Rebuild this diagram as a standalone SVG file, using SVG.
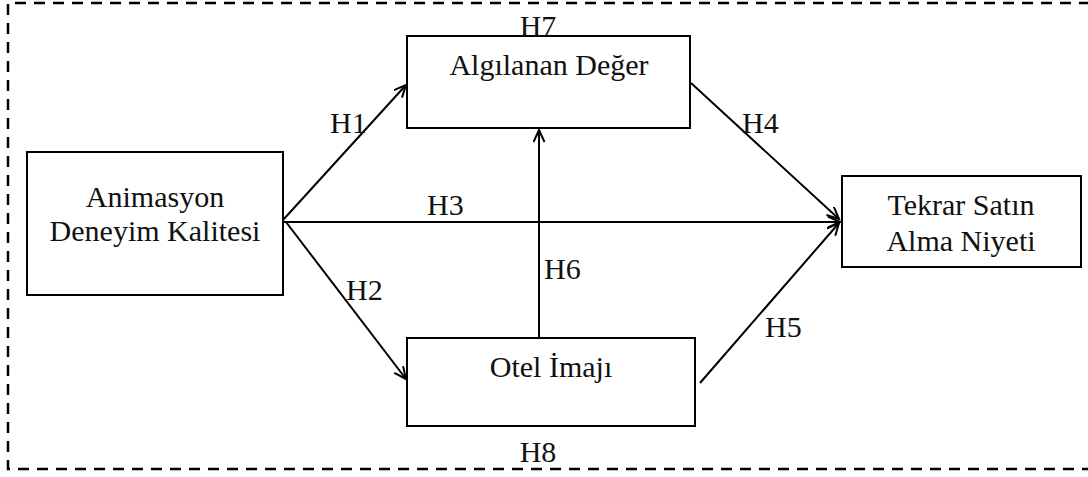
<svg xmlns="http://www.w3.org/2000/svg" width="1088" height="477" viewBox="0 0 1088 477">
<style>
text{font-family:"Liberation Serif","Times New Roman",serif;font-size:30px;fill:#111}
.box{fill:#fff;stroke:#000;stroke-width:2}
.c{stroke:#000;stroke-width:2;fill:none;marker-end:url(#ah)}
.mid{text-anchor:middle}
.border{fill:none;stroke:#000;stroke-width:2.5;stroke-dasharray:11 8}
</style>
<defs>
<marker id="ah" markerUnits="userSpaceOnUse" markerWidth="18" markerHeight="16" refX="13" refY="6" orient="auto">
<path d="M1,0.5 L13,6 L1,11.5" fill="none" stroke="#000" stroke-width="2"/>
</marker>
</defs>
<path class="border" d="M1090,3 H8 V469 H1090"/>
<g id="connectors">
<line class="c" x1="283" y1="220" x2="406" y2="85"/>
<line class="c" x1="286" y1="222" x2="406" y2="379"/>
<line class="c" x1="283" y1="222" x2="840" y2="222"/>
<line class="c" x1="691" y1="83" x2="839" y2="219"/>
<line class="c" x1="700" y1="383" x2="839" y2="223"/>
<line class="c" x1="539" y1="338" x2="539" y2="130"/>
</g>
<g id="labels">
<text x="330" y="133">H1</text>
<text x="742" y="133">H4</text>
<text x="427" y="215">H3</text>
<text x="544" y="279">H6</text>
<text x="346" y="300">H2</text>
<text x="765" y="337">H5</text>
<text class="mid" x="538" y="462">H8</text>
</g>
<g id="node-animasyon">
<rect class="box" x="27" y="152" width="256" height="143"/>
<text class="mid" x="155" y="207">Animasyon</text>
<text class="mid" x="155" y="241">Deneyim Kalitesi</text>
</g>
<g id="node-algilanan">
<rect class="box" x="407" y="36" width="283" height="92"/>
<text class="mid" x="549" y="75">Algılanan Değer</text>
</g>
<g id="node-otel">
<rect class="box" x="407" y="338" width="288" height="88"/>
<text class="mid" x="551" y="377">Otel İmajı</text>
</g>
<g id="node-tekrar">
<rect class="box" x="842" y="176" width="239" height="91"/>
<text class="mid" x="961" y="215">Tekrar Satın</text>
<text class="mid" x="961" y="251">Alma Niyeti</text>
</g>
<text class="mid" x="538" y="36">H7</text>
</svg>
